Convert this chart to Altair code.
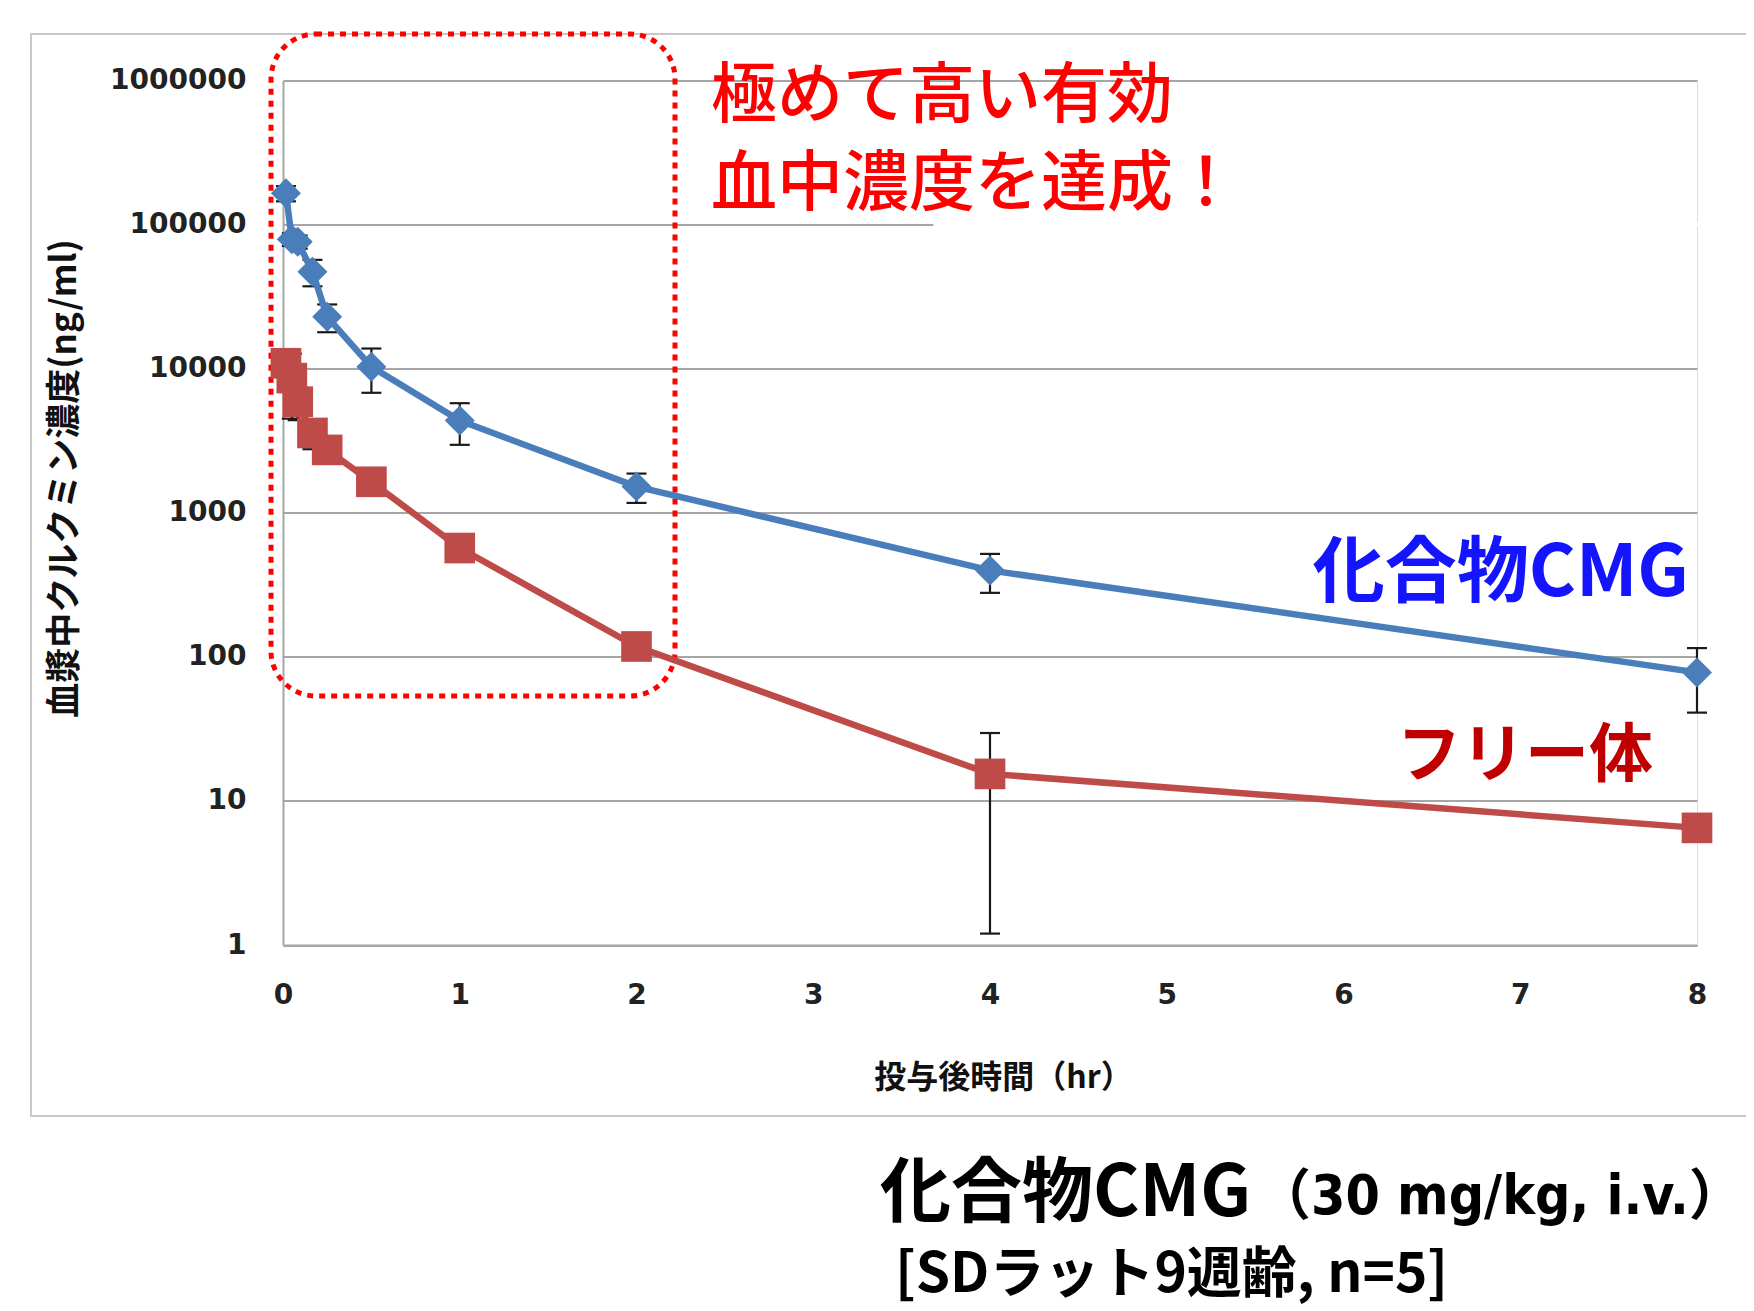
import altair as alt
import pandas as pd

# ---- data ----
time_hr = [1/60, 3/60, 5/60, 10/60, 15/60, 0.5, 1, 2, 4, 8]
cmg_mean = [165000, 79000, 76000, 47100, 22900, 10300, 4360, 1520, 398, 78]
cmg_sd = [20000, 8000, 8000, 9800, 5000, 3500, 1400, 350, 120, 37]
free_mean = [10900, 8600, 5900, 3580, 2730, 1640, 569, 118, 15.4, 6.5]
free_sd = [2200, 4100, 1500, 820, 400, 250, 60, 15, 14.2, 1]

x_ticks = [0, 1, 2, 3, 4, 5, 6, 7, 8]
y_ticks = [1, 10, 100, 1000, 10000, 100000, 1000000]

x_title = "投与後時間（hr）"
y_title = "血漿中クルクミン濃度(ng/ml)"
label_cmg = "化合物CMG"
label_free = "フリー体"
note_line1 = "極めて高い有効"
note_line2 = "血中濃度を達成！"
caption_a = "化合物CMG"
caption_b = "（30 mg/kg, i.v.）"
caption_c = "[SDラット9週齢, n=5]"

BLUE = "#4A7EBB"
RED = "#BE4B48"
JP = "Noto Sans CJK JP"
COND = "DejaVu Sans Condensed, Noto Sans CJK JP"

def frame(mean, sd):
    return pd.DataFrame({
        "t": time_hr,
        "v": mean,
        "lo": [m - s for m, s in zip(mean, sd)],
        "hi": [m + s for m, s in zip(mean, sd)],
    })

df_cmg = frame(cmg_mean, cmg_sd)
df_free = frame(free_mean, free_sd)

xs = alt.Scale(domain=[0, 8], nice=False, zero=False)
ys = alt.Scale(type="log", domain=[1, 1000000], nice=False)

x_axis = alt.Axis(values=x_ticks, format="d", grid=False, ticks=False,
                  domainColor="#A6A6A6", domainWidth=2, labelFlush=False,
                  labelFont="DejaVu Sans", labelFontSize=28, labelFontWeight="bold",
                  labelColor="#222222",
                  labelPadding=50, labelBaseline="middle",
                  title=x_title, titleFont=JP, titleFontSize=32, titleFontWeight="bold",
                  titleColor="#111", titleX=720, titleY=132, titleBaseline="middle",
                  titleAlign="center")
y_axis = alt.Axis(values=y_ticks, format="d", grid=True, ticks=False,
                  gridColor="#A6A6A6", gridWidth=2, labelFlush=False,
                  domainColor="#A6A6A6", domainWidth=2,
                  labelFont="DejaVu Sans", labelFontSize=28, labelFontWeight="bold",
                  labelColor="#222222",
                  labelPadding=37,
                  title=y_title, titleFont=JP, titleFontSize=35, titleFontWeight="bold",
                  titleColor="#111", titleX=-219, titleY=397.5, titleAngle=270,
                  titleBaseline="middle", titleAlign="center")

def X(field):
    return alt.X(field, scale=xs, axis=x_axis)

def Y(field):
    return alt.Y(field, scale=ys, axis=y_axis)

one = pd.DataFrame({"k": [0]})

outer = alt.Chart(one).mark_rect(fillOpacity=0, stroke="#C8C8C8", strokeWidth=2).encode(
    x=alt.value(-252), x2=alt.value(1500), y=alt.value(-46.5), y2=alt.value(1035.5))

dotted = alt.Chart(one).mark_rect(fillOpacity=0, stroke="#FF0000", strokeWidth=5,
                                  strokeDash=[6, 6], cornerRadius=45).encode(
    x=alt.value(-12), x2=alt.value(392), y=alt.value(-46.5), y2=alt.value(615.5))

cover = alt.Chart(pd.DataFrame({"a": [3.68], "b": [8.05], "y": [100000]})).mark_rule(
    color="white", strokeWidth=4).encode(x=X("a:Q"), x2="b:Q", y=Y("y:Q"))

def series(df, color, shape, size):
    rules = alt.Chart(df).mark_rule(color="#1a1a1a", strokeWidth=2.2).encode(
        x=X("t:Q"), y=Y("lo:Q"), y2="hi:Q")
    cap_hi = alt.Chart(df).mark_tick(orient="horizontal", size=20, thickness=2.2,
                                     color="#1a1a1a", opacity=1).encode(
        x=X("t:Q"), y=Y("hi:Q"))
    cap_lo = alt.Chart(df).mark_tick(orient="horizontal", size=20, thickness=2.2,
                                     color="#1a1a1a", opacity=1).encode(
        x=X("t:Q"), y=Y("lo:Q"))
    line = alt.Chart(df).mark_line(color=color, strokeWidth=6.5).encode(
        x=X("t:Q"), y=Y("v:Q"))
    pts = alt.Chart(df).mark_point(shape=shape, filled=True, size=size, color=color,
                                   opacity=1).encode(x=X("t:Q"), y=Y("v:Q"))
    return [rules, cap_hi, cap_lo, line, pts]

def label(text, x, y, size, color, weight="normal", align="left", font=JP):
    return alt.Chart(one).mark_text(align=align, baseline="middle", fontSize=size,
                                    font=font, fontWeight=weight, color=color).encode(
        x=alt.value(x), y=alt.value(y), text=alt.value(text))

texts = [
    label(note_line1, 428, 16, 66, "#FF0000", weight=500),
    label(note_line2, 428, 104, 66, "#FF0000", weight=500),
    label(label_cmg, 1406, 493.5, 72, "#1414FF", weight="bold", align="right"),
    label(label_free, 1370, 676.5, 64, "#C00000", weight="bold", align="right"),
    label(caption_a, 597, 1114.5, 71, "#000000", weight="bold"),
    label(caption_b, 973, 1116, 55, "#000000", weight="bold", font=COND),
    label(caption_c, 612, 1194.5, 55, "#000000", weight="bold"),
]

chart = alt.layer(
    outer, dotted, cover,
    *series(df_free, RED, "square", 940),
    *series(df_cmg, BLUE, "diamond", 900),
    *texts,
).properties(
    width=1414, height=864.5,
    autosize=alt.AutoSizeParams(type="none"),
    padding={"left": 275, "top": 72.5, "right": 49, "bottom": 366},
).configure_view(stroke="transparent").configure(background="white")

chart.save("out.html", embed_options={"renderer": "svg", "actions": False})
